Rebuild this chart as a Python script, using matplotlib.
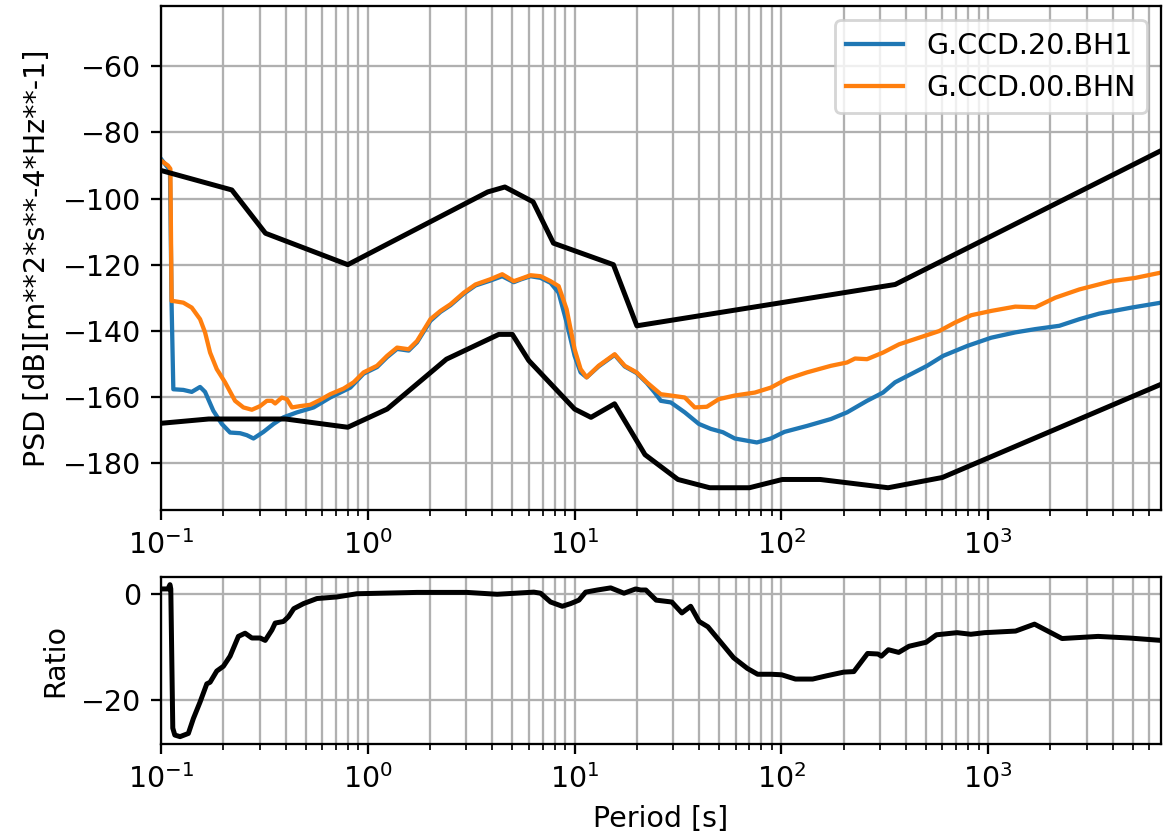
import matplotlib
matplotlib.use("Agg")
import matplotlib.pyplot as plt

# Peterson noise models (breakpoints)
nhnm_period = [0.1, 0.22, 0.32, 0.8, 3.8, 4.6, 6.3, 7.9, 15.4, 20.0, 354.8, 6850]
nhnm_db = [-91.5, -97.4, -110.5, -120.0, -98.0, -96.5, -101.0, -113.5, -120.0, -138.5, -126.0, -85.5]

nlnm_period = [0.1, 0.17, 0.4, 0.8, 1.24, 2.4, 4.3, 5.0, 6.0, 10.0, 12.0, 15.6, 21.9,
               31.6, 45.0, 70.0, 101.0, 154.0, 328.0, 600.0, 6850]
nlnm_db = [-168.0, -166.7, -166.7, -169.2, -163.7, -148.6, -141.1, -141.1, -149.0, -163.7,
           -166.2, -162.1, -177.5, -185.0, -187.5, -187.5, -185.0, -185.0, -187.5, -184.4, -156.2]

# G.CCD.20.BH1
bh1_period = [0.1, 0.1105, 0.1125, 0.1147, 0.1282, 0.1408, 0.1545, 0.1633, 0.179, 0.1968,
              0.2158, 0.2413, 0.26, 0.28, 0.313, 0.35, 0.391, 0.454, 0.547, 0.658, 0.823,
              0.954, 1.108, 1.239, 1.385, 1.576, 1.73, 2.008, 2.245, 2.509, 2.91, 3.316,
              3.92, 4.466, 5.08, 5.476, 6.12, 6.845, 7.65, 8.37, 9.15, 10.0, 10.69, 11.43,
              13.06, 15.62, 17.47, 19.95, 22.33, 24.4, 26.1, 29.2, 34.1, 39.9, 45.6, 52.1,
              59.5, 76.1, 88.9, 103.4, 132.9, 173.7, 207.6, 259.4, 310, 354.5, 423.8,
              506.6, 605.4, 791.4, 1034, 1351, 1689, 2207, 2758, 3447, 4926, 6850]
bh1_db = [-88.0, -91.5, -132.0, -157.7, -157.9, -158.5, -157.0, -158.5, -164.2, -168.2,
          -170.8, -171.0, -171.6, -172.6, -170.6, -168.2, -166.2, -164.7, -163.2, -160.2, -157.2,
          -153.0, -151.0, -148.0, -145.5, -146.0, -143.5, -137.0, -134.3, -132.3, -128.8, -126.3,
          -124.8, -123.5, -125.3, -124.5, -123.5, -124.0, -125.5, -128.5, -137.5, -147.6, -152.6, -154.1,
          -150.8, -147.3, -150.8, -152.8, -155.8, -158.7, -161.2, -161.7, -164.7, -168.2, -169.7, -170.7,
          -172.6, -173.8, -172.6, -170.6, -168.8, -166.7, -164.7, -161.2, -158.7, -155.6, -153.1,
          -150.6, -147.6, -144.6, -142.1, -140.5, -139.5, -138.5, -136.5, -134.8, -133.0, -131.5]

# G.CCD.00.BHN
bhn_period = [0.1, 0.108, 0.111, 0.1125, 0.1147, 0.1282, 0.1408, 0.1545, 0.1633, 0.1727,
              0.186, 0.204, 0.228, 0.2503, 0.275, 0.3015, 0.325, 0.3437, 0.3565, 0.384,
              0.406, 0.4295, 0.471, 0.5267, 0.589, 0.658, 0.7636, 0.8534, 0.954, 1.108,
              1.239, 1.385, 1.576, 1.73, 2.008, 2.245, 2.509, 2.91, 3.316, 3.92, 4.466,
              5.08, 5.476, 6.12, 6.845, 7.65, 8.37, 9.15, 10.0, 10.69, 11.43, 13.06, 15.62,
              17.47, 19.95, 22.33, 26.1, 29.2, 34.1, 38.1, 43.6, 49.8, 59.5, 74.4, 88.9,
              106.3, 132.9, 173.7, 207.6, 227, 259.4, 310, 370.7, 463.4, 579, 692, 827.5,
              1034, 1351, 1689, 2110, 2758, 3941, 5152, 6850]
bhn_db = [-88.5, -90.0, -91.0, -131.0, -131.0, -131.5, -133.0, -136.5, -140.5, -146.6,
          -151.6, -155.6, -161.2, -163.2, -163.9, -162.8, -161.2, -161.2, -162.0, -160.2,
          -160.7, -163.2, -162.8, -162.4, -160.9, -159.2, -157.5, -155.6, -152.6, -150.6,
          -147.6, -145.1, -145.6, -143.1, -136.5, -134.0, -132.0, -128.5, -126.0, -124.4, -122.9,
          -125.0, -124.3, -123.2, -123.5, -125.0, -126.5, -133.5, -145.6, -151.6, -154.1, -150.6, -147.1,
          -150.6, -152.6, -155.6, -159.2, -159.6, -160.2, -163.2, -163.0, -160.7, -159.6, -158.7, -157.2,
          -154.6, -152.6, -150.6, -149.6, -148.4, -148.6, -146.6, -144.1, -142.1, -140.1, -137.5, -135.3,
          -134.0, -132.7, -132.9, -130.0, -127.5, -125.0, -124.0, -122.4]

# ratio panel
ratio_period = [0.1, 0.108, 0.1105, 0.1115, 0.114, 0.1166, 0.1236, 0.1356, 0.1434, 0.1545,
                0.1665, 0.1727, 0.186, 0.2003, 0.2158, 0.2367, 0.255, 0.275, 0.3015, 0.319,
                0.3437, 0.3565, 0.391, 0.4135, 0.4385, 0.4887, 0.5675, 0.709, 0.8865, 1.73,
                3.02, 4.22, 6.35, 6.845, 7.65, 8.72, 9.56, 10.49, 11.31, 12.88, 14.94, 17.33,
                19.74, 20.87, 22.1, 24.8, 29.5, 33.0, 36.4, 40.0, 44.1, 50.4, 58.7, 68.4, 76.7,
                89.4, 100.3, 116.9, 141.6, 165, 200, 224, 261, 293, 304.6, 329, 369, 414, 501,
                562, 707, 824, 961, 1356, 1674, 2275, 3398, 4796, 6850]
ratio_db = [0.9, 0.9, 1.7, 0.9, -25.2, -26.5, -26.8, -26.2, -23.4, -20.3,
            -16.9, -16.6, -14.5, -13.6, -11.7, -8.0, -7.4, -8.3, -8.3, -8.75,
            -6.8, -5.5, -5.2, -4.3, -2.8, -1.85, -0.9, -0.6, 0.0, 0.25,
            0.25, -0.1, 0.3, 0.1, -1.55, -2.35, -1.85, -1.2, 0.3, 0.7, 1.1, 0.1,
            0.9, 0.7, 0.7, -1.2, -1.55, -3.6, -2.35, -5.2, -6.2, -8.9, -12.0, -14.0, -15.1,
            -15.1, -15.2, -16.0, -16.0, -15.4, -14.7, -14.6, -11.2, -11.3, -11.7, -10.5, -11.0, -9.85, -9.1,
            -7.7, -7.3, -7.6, -7.3, -7.0, -5.7, -8.4, -8.0, -8.3, -8.75]

dpi = 205
fig = plt.figure(figsize=(1171 / dpi, 840 / dpi), dpi=dpi)
ax1 = fig.add_axes([0.1375, 0.393, 0.854, 0.600])
ax2 = fig.add_axes([0.1375, 0.114, 0.854, 0.199])

ax1.semilogx(bh1_period, bh1_db, color="tab:blue", lw=1.5, label="G.CCD.20.BH1")
ax1.semilogx(bhn_period, bhn_db, color="tab:orange", lw=1.5, label="G.CCD.00.BHN")
ax1.semilogx(nhnm_period, nhnm_db, color="k", lw=1.75)
ax1.semilogx(nlnm_period, nlnm_db, color="k", lw=1.75)
ax1.set_xlim(0.1, 6850)
ax1.set_ylim(-194.2, -41.7)
ax1.set_yticks([-180, -160, -140, -120, -100, -80, -60])
ax1.set_ylabel("PSD [dB][m**2*s**-4*Hz**-1]")
ax1.grid(True, which="both")
ax1.legend(loc="upper right")

ax2.semilogx(ratio_period, ratio_db, color="k", lw=1.75)
ax2.set_xlim(0.1, 6850)
ax2.set_ylabel("Ratio")
ax2.set_xlabel("Period [s]")
ax2.grid(True, which="both")

fig.savefig("out.png", dpi=dpi)
